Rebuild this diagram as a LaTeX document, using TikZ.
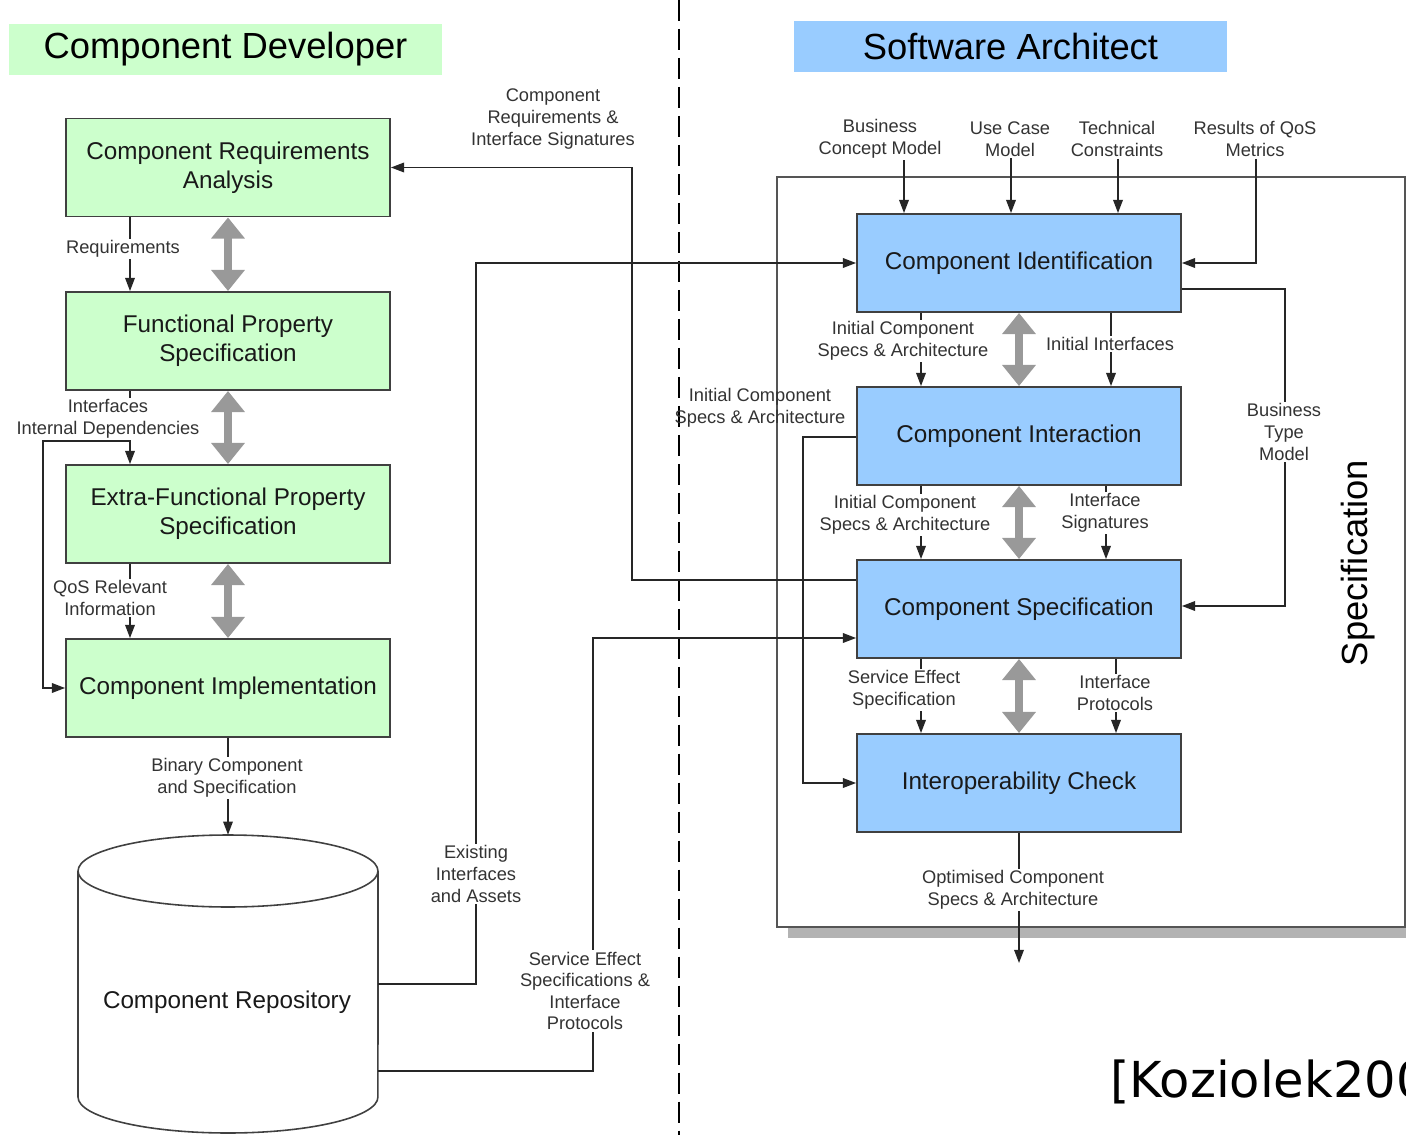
\documentclass[tikz,border=0pt]{standalone}
\usepackage{fontspec}
\setmainfont{Liberation Sans}
\newfontfamily\dejavu{DejaVu Sans}
\usetikzlibrary{arrows.meta}
\definecolor{devgreen}{HTML}{CCFFCC}
\definecolor{archblue}{HTML}{99CCFF}
\definecolor{boxedge}{HTML}{404040}
\definecolor{linecol}{HTML}{262626}
\definecolor{labelcol}{HTML}{333333}
\definecolor{biggray}{HTML}{999999}
\definecolor{shadowgray}{HTML}{B3B3B3}
\definecolor{framecol}{HTML}{555555}
\begin{document}
\begin{tikzpicture}[x=0.02cm,y=-0.02cm,
  devbox/.style={draw=boxedge, line width=1.1pt, fill=devgreen, minimum width=6.48cm, minimum height=1.96cm, align=center, font=\fontsize{13.8}{16.7}\selectfont, text=black!90, inner sep=0pt},
  archbox/.style={devbox, fill=archblue},
  conn/.style={draw=linecol, line width=0.8pt, -{Triangle[width=5.5pt,length=7.5pt]}},
  lbl/.style={fill=white, inner sep=1pt, align=center, text=labelcol, font=\fontsize{10.4}{12.3}\selectfont, yshift=-0.04cm},
  freelbl/.style={lbl, fill=none},
  bigarrow/.style={draw=biggray, line width=4.3pt, {Triangle[width=18.5pt,length=12pt]}-{Triangle[width=18.5pt,length=12pt]}},
  titlebox/.style={minimum width=8.66cm, minimum height=1.02cm, inner sep=0pt, font=\fontsize{20.7}{25}\selectfont},
]
\useasboundingbox (0,0) rectangle (1406,1135);
\clip (0,0) rectangle (1406,1135);

% specification frame with shadow
\fill[shadowgray] (788,927) rectangle (1420,938);
\draw[draw=framecol, line width=1.1pt, fill=white] (777,177) rectangle (1405,927);
\node[rotate=90, font=\fontsize{20.7}{25}\selectfont] (spec) at (1358,563) {Specification};

% dashed separator
\draw[line width=1.4pt, dash pattern=on 12pt off 4.5pt] (679,0) -- (679,1135);

% titles
\node[titlebox, fill=devgreen] (devtitle) at (225.5,49.5) {Component Developer};
\node[titlebox, fill=archblue] (archtitle) at (1010.5,46.5) {Software Architect};

% component developer boxes
\node[devbox] (CRA) at (228,167.5) {Component Requirements\\Analysis};
\node[devbox] (FPS) at (228,341) {Functional Property\\Specification};
\node[devbox] (EFPS) at (228,514) {Extra-Functional Property\\Specification};
\node[devbox] (CI) at (228,688) {Component Implementation};

% software architect boxes
\node[archbox] (CIdent) at (1019,263) {Component Identification};
\node[archbox] (CInter) at (1019,436) {Component Interaction};
\node[archbox] (CSpec) at (1019,609) {Component Specification};
\node[archbox] (ICheck) at (1019,783) {Interoperability Check};

% repository cylinder
\node[minimum width=6cm, minimum height=5.96cm, inner sep=0pt] (repo) at (228,984) {};
\draw[draw=boxedge, line width=0.9pt, fill=white] (78,871) -- (78,1097)
  arc[start angle=180, end angle=360, x radius=3cm, y radius=0.72cm] -- (378,871);
\draw[draw=boxedge, line width=0.9pt, fill=white] (228,871) ellipse[x radius=3cm, y radius=0.72cm];
\node[font=\fontsize{13.8}{16.7}\selectfont, text=black!90] (repotext) at (227,1002) {Component Repository};

% big gray double arrows
\draw[bigarrow] (CRA.south) -- (FPS.north);
\draw[bigarrow] (FPS.south) -- (EFPS.north);
\draw[bigarrow] (EFPS.south) -- (CI.north);
\draw[bigarrow] (CIdent.south) -- (CInter.north);
\draw[bigarrow] (CInter.south) -- (CSpec.north);
\draw[bigarrow] (CSpec.south) -- (ICheck.north);

% left connectors
\draw[conn] (CRA.south -| 130,0) -- (FPS.north -| 130,0);
\draw[conn] (FPS.south -| 130,0) -- (EFPS.north -| 130,0);
\coordinate (j1) at (130,441);
\draw[conn] (j1) -- (43,441) |- (CI.west);
\draw[conn] (EFPS.south -| 130,0) -- (CI.north -| 130,0);
\draw[conn] (CI.south) -- (repo.north);

% cross connectors
\draw[conn] (repo.east) -- (repo.east -| 476,0) |- (CIdent.west);
\draw[conn] (repo.east |- 0,1071) -- (593,1071) |- (CSpec.west |- 0,638);
\draw[conn] (CSpec.west |- 0,580) -- (632,580) |- (CRA.east);

% architect inputs
\node[lbl] (bcm) at (880,137) {Business\\Concept Model};
\node[lbl] (ucm) at (1010,137) {Use Case\\Model};
\node[lbl] (tcon) at (1117,137) {Technical\\Constraints};
\node[lbl] (rqos) at (1255,137) {Results of QoS\\Metrics};
\draw[conn] (bcm.south -| 904,0) -- (CIdent.north -| 904,0);
\draw[conn] (ucm.south -| 1011,0) -- (CIdent.north -| 1011,0);
\draw[conn] (tcon.south -| 1118,0) -- (CIdent.north -| 1118,0);
\draw[conn] (rqos.south -| 1256,0) |- (CIdent.east);

% architect internal connectors
\draw[conn] (CIdent.south -| 921,0) -- (CInter.north -| 921,0);
\draw[conn] (CIdent.south -| 1111,0) -- (CInter.north -| 1111,0);
\draw[conn] (CIdent.east |- 0,289) -- (1285,289) |- (CSpec.east |- 0,606);
\draw[conn] (CInter.south -| 921,0) -- (CSpec.north -| 921,0);
\draw[conn] (CInter.south -| 1106,0) -- (CSpec.north -| 1106,0);
\draw[conn] (CSpec.south -| 921,0) -- (ICheck.north -| 921,0);
\draw[conn] (CSpec.south -| 1116,0) -- (ICheck.north -| 1116,0);
\draw[conn] (CInter.west |- 0,437) -- (803,437) |- (ICheck.west);
\coordinate (out) at (1019,963);
\draw[conn] (ICheck.south) -- (out);

% labels
\node[lbl] (l1) at (123,247) {Requirements};
\node[lbl] (l2) at (108,417) {Interfaces\\Internal Dependencies};
\node[lbl] (l3) at (110,596) {QoS Relevant\\Information};
\node[lbl] (l4) at (227,776) {Binary Component\\and Specification};
\node[lbl] (l5) at (476,872) {Existing\\Interfaces\\and Assets};
\node[lbl] (l6) at (585,989) {Service Effect\\Specifications \&\\Interface\\Protocols};
\node[lbl] (l7) at (553,117) {Component\\Requirements \&\\Interface Signatures};
\node[freelbl] (l8) at (760,406) {Initial Component\\Specs \& Architecture};
\node[lbl] (l9) at (903,339) {Initial Component\\Specs \& Architecture};
\node[lbl] (l10) at (1110,342) {Initial Interfaces};
\node[lbl] (l11) at (1284,430) {Business\\Type\\Model};
\node[lbl] (l12) at (905,513) {Initial Component\\Specs \& Architecture};
\node[lbl] (l13) at (1105,511) {Interface\\Signatures};
\node[lbl] (l14) at (904,688) {Service Effect\\Specification};
\node[lbl] (l15) at (1115,691) {Interface\\Protocols};
\node[lbl] (l16) at (1013,888) {Optimised Component\\Specs \& Architecture};

% citation
\node[anchor=base west, inner sep=0pt, font=\dejavu\fontsize{28.2}{34}\selectfont] (cite) at (1110,1097) {[Koziolek200};
\end{tikzpicture}
\end{document}
